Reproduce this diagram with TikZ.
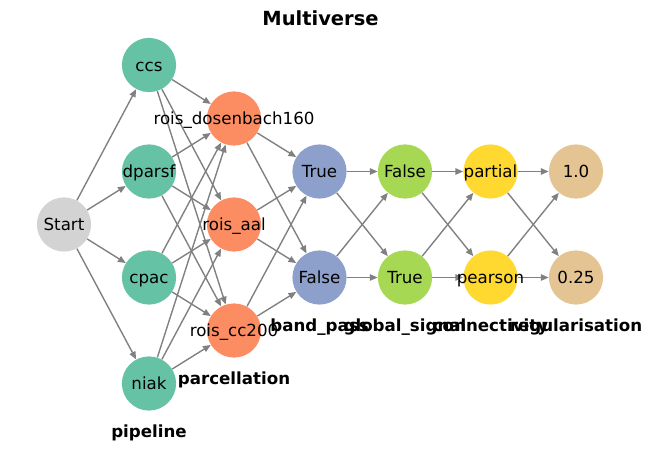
\documentclass[tikz,border=0pt]{standalone}
\usepackage{fontspec}
\setmainfont{DejaVu Sans}
\usetikzlibrary{arrows.meta}
\definecolor{cstart}{HTML}{D3D3D3}
\definecolor{cpipe}{HTML}{66C2A5}
\definecolor{cparc}{HTML}{FC8D62}
\definecolor{cband}{HTML}{8DA0CB}
\definecolor{cglob}{HTML}{A6D854}
\definecolor{cconn}{HTML}{FFD92F}
\definecolor{creg}{HTML}{E5C494}
\definecolor{cedge}{HTML}{808080}
\begin{document}
\begin{tikzpicture}[x=0.72pt,y=-0.72pt,
  nd/.style={circle, minimum size=39pt, inner sep=0pt, draw=none, fill=#1},
  lab/.style={font=\fontsize{12}{14}\selectfont, text height=8.75pt, text depth=0pt, inner sep=0pt},
  layer/.style={font=\bfseries\fontsize{12}{14}\selectfont, text height=8.75pt, text depth=0pt, inner sep=0pt},
  edge/.style={draw=cedge, line width=1pt, -{Triangle[length=5.6pt,width=4.6pt]}}]
\useasboundingbox (0,0) rectangle (652,451);
% nodes (circles)
\node[nd=cstart] (start) at (64,224.5) {};
\node[nd=cpipe] (ccs) at (149,65) {};
\node[nd=cpipe] (dparsf) at (149,171.5) {};
\node[nd=cpipe] (cpac) at (149,277.5) {};
\node[nd=cpipe] (niak) at (149,383.5) {};
\node[nd=cparc] (dos) at (234,118.5) {};
\node[nd=cparc] (aal) at (234,224.5) {};
\node[nd=cparc] (cc) at (234,330.5) {};
\node[nd=cband] (bT) at (319.5,171.5) {};
\node[nd=cband] (bF) at (319.5,277.5) {};
\node[nd=cglob] (gF) at (405,171.5) {};
\node[nd=cglob] (gT) at (405,277.5) {};
\node[nd=cconn] (cpar) at (490.5,171.5) {};
\node[nd=cconn] (cpea) at (490.5,277.5) {};
\node[nd=creg] (r1) at (576,171.5) {};
\node[nd=creg] (r2) at (576,277.5) {};
% edges
\foreach \t in {ccs,dparsf,cpac,niak} \draw[edge] (start) -- (\t);
\foreach \s in {ccs,dparsf,cpac,niak} \foreach \t in {dos,aal,cc} \draw[edge] (\s) -- (\t);
\foreach \s in {dos,aal,cc} \foreach \t in {bT,bF} \draw[edge] (\s) -- (\t);
\foreach \s in {bT,bF} \foreach \t in {gF,gT} \draw[edge] (\s) -- (\t);
\foreach \s in {gF,gT} \foreach \t in {cpar,cpea} \draw[edge] (\s) -- (\t);
\foreach \s in {cpar,cpea} \foreach \t in {r1,r2} \draw[edge] (\s) -- (\t);
% labels
\node[lab] at (start) {Start};
\node[lab] at (ccs) {ccs};
\node[lab] at (dparsf) {dparsf};
\node[lab] at (cpac) {cpac};
\node[lab] at (niak) {niak};
\node[lab] at (dos) {rois\_dosenbach160};
\node[lab] at (aal) {rois\_aal};
\node[lab] at (cc) {rois\_cc200};
\node[lab] at (bT) {True};
\node[lab] at (bF) {False};
\node[lab] at (gF) {False};
\node[lab] at (gT) {True};
\node[lab] at (cpar) {partial};
\node[lab] at (cpea) {pearson};
\node[lab] at (r1) {1.0};
\node[lab] at (r2) {0.25};
% layer labels
\node[layer] (lpipe) at (149,431) {pipeline};
\node[layer] (lparc) at (234,378.5) {parcellation};
\node[layer] (lband) at (319.5,325.5) {band\_pass};
\node[layer] (lglob) at (405,325.5) {global\_signal};
\node[layer] (lconn) at (490.5,325.5) {connectivity};
\node[layer] (lreg) at (576,325.5) {regularisation};
\node[font=\bfseries\fontsize{14}{16}\selectfont, text height=10.2pt, text depth=0pt, inner sep=0pt] (title) at (320.5,18.5) {Multiverse};
\end{tikzpicture}
\end{document}
